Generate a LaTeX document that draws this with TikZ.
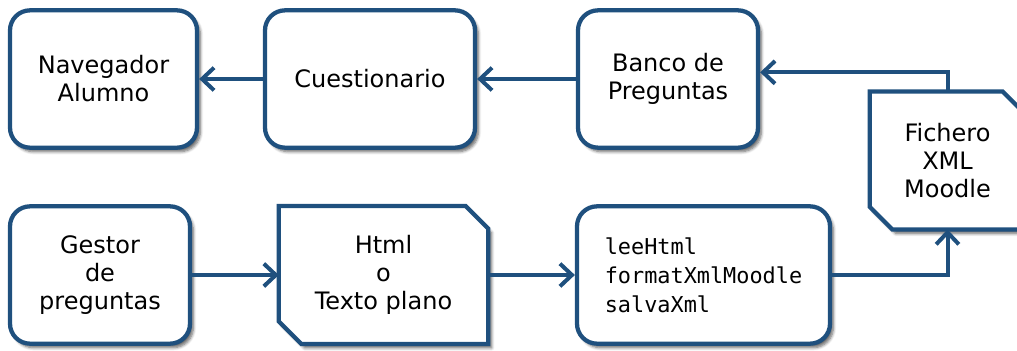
\documentclass[tikz,border=0pt]{standalone}
\usepackage{fontspec}
\setmainfont{DejaVu Sans}
\setmonofont{DejaVu Sans Mono}
\usetikzlibrary{arrows.meta,shadows.blur,backgrounds}
\definecolor{azul}{RGB}{31,80,126}

\tikzset{
  sombra/.style={blur shadow={shadow xshift=2.5pt,shadow yshift=-3pt,shadow blur steps=6,shadow opacity=60}},
  caja/.style={draw=azul, line width=3.2pt, rounded corners=15pt, fill=white, sombra,
    align=center, minimum height=103pt, font=\fontsize{18}{21}\selectfont},
  hoja/.style={align=center, minimum height=103pt, font=\fontsize{18}{21}\selectfont},
  borde/.style={draw=azul, line width=3.2pt, fill=white, sombra},
  flecha/.style={draw=azul, line width=3pt, -{Straight Barb[length=9pt,width=17pt]}}
}

\begin{document}
\begin{tikzpicture}[x=0.75pt,y=-0.75pt]
  \useasboundingbox (0,0) rectangle (1017,350);

  % fila superior
  \node[caja, minimum width=140.25pt] (nav) at (103.5,79) {Navegador\\Alumno};
  \node[caja, minimum width=157.5pt] (cues) at (370,79) {Cuestionario};
  \node[caja, minimum width=135pt] (banco) at (668,79) {Banco de\\Preguntas};

  % fila inferior
  \node[caja, minimum width=135pt] (gestor) at (100,275) {Gestor\\de\\preguntas};
  \node[hoja, minimum width=156.75pt] (html) at (383.5,275) {Html\\o\\Texto plano};
  \node[caja, minimum width=189.75pt, align=left,
    font=\ttfamily\fontsize{16.4}{21.75}\selectfont] (lee) at (703.5,275)
    {leeHtml\\formatXmlMoodle\\salvaXml};

  \node[hoja, minimum width=116.25pt] (fichero) at (947.5,160.5) {Fichero\\XML\\Moodle};

  % esquinas cortadas
  \begin{scope}[on background layer]
    \filldraw[borde] (html.north west) -- ([xshift=-17pt]html.north east)
      -- ([yshift=-17pt]html.north east) -- (html.south east)
      -- ([xshift=17pt]html.south west) -- ([yshift=17pt]html.south west) -- cycle;
    \filldraw[borde] (fichero.north west) -- ([xshift=-17pt]fichero.north east)
      -- ([yshift=-17pt]fichero.north east) -- (fichero.south east)
      -- ([xshift=17pt]fichero.south west) -- ([yshift=17pt]fichero.south west) -- cycle;
  \end{scope}

  % conexiones
  \draw[flecha] (cues) -- (nav);
  \draw[flecha] (banco) -- (cues);
  \draw[flecha] (fichero.north) |- ([yshift=5pt]banco.east);
  \draw[flecha] (gestor) -- (html);
  \draw[flecha] (html) -- (lee);
  \draw[flecha] (lee.east) -| (fichero.south);
\end{tikzpicture}
\end{document}
